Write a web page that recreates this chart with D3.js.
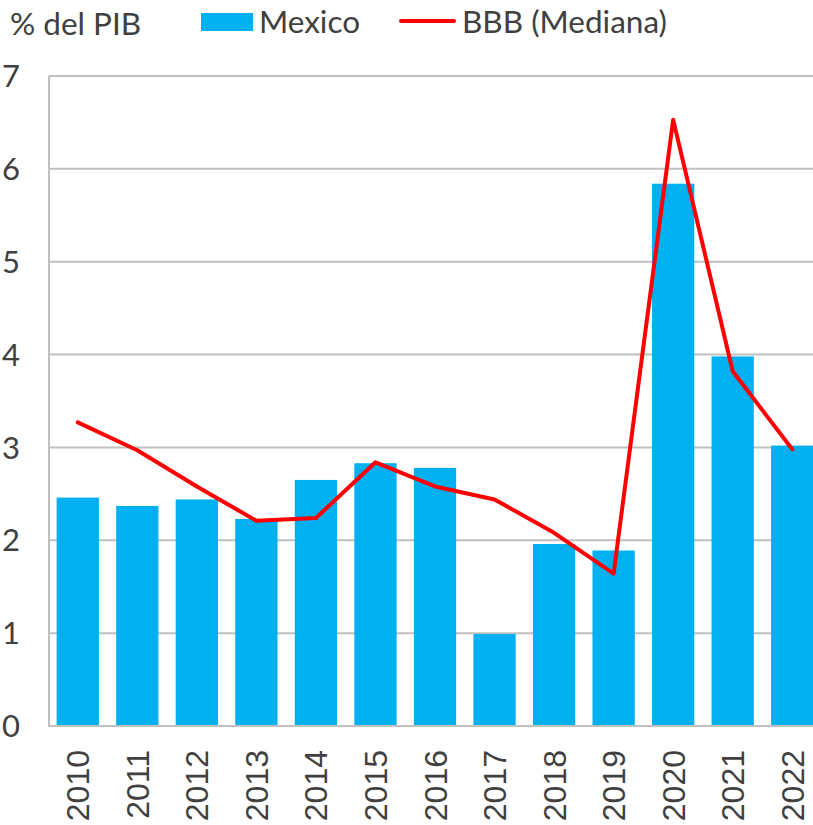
<!DOCTYPE html>
<html>
<head>
<meta charset="utf-8">
<script src="https://cdn.jsdelivr.net/npm/d3@7"></script>
<style>
  body { margin: 0; background: #fff; }
  svg { display: block; }
</style>
</head>
<body>
<div id="chart-area"></div>
<script>
var width = 813;
var height = 825;

// data
var years = ['2010','2011','2012','2013','2014','2015','2016','2017','2018','2019','2020','2021','2022'];
var mexico = [2.46, 2.37, 2.44, 2.23, 2.65, 2.83, 2.78, 0.99, 1.96, 1.89, 5.84, 3.98, 3.02];
var bbb = [3.27, 2.97, 2.58, 2.21, 2.24, 2.84, 2.58, 2.44, 2.08, 1.64, 6.53, 3.82, 2.98];
var yTicks = [0, 1, 2, 3, 4, 5, 6, 7];

var textColor = '#404040';
var gridColor = '#c0c0c0';

var svg = d3.select('#chart-area').append('svg')
            .attr('width', width)
            .attr('height', height);

var xScale = d3.scaleBand()
               .domain(years)
               .range([48, 822])
               .paddingInner(0.29)
               .paddingOuter(0.145);

var yScale = d3.scaleLinear()
               .domain([0, 7])
               .range([726, 76]);

// gridlines
svg.append('g')
   .selectAll('line')
   .data(yTicks.filter(function(d){ return d > 0; }))
   .enter().append('line')
   .attr('x1', 49)
   .attr('x2', width)
   .attr('y1', function(d){ return yScale(d); })
   .attr('y2', function(d){ return yScale(d); })
   .attr('stroke', gridColor)
   .attr('stroke-width', 2);

// y tick labels
svg.append('g')
   .selectAll('text')
   .data(yTicks)
   .enter().append('text')
   .attr('x', 20)
   .attr('y', function(d){ return yScale(d); })
   .attr('dy', '0.36em')
   .attr('text-anchor', 'end')
   .attr('font-family', 'Lato, sans-serif')
   .attr('font-size', '31px')
   .attr('fill', textColor)
   .text(function(d){ return d; });

// bars
svg.append('g')
   .selectAll('rect')
   .data(mexico)
   .enter().append('rect')
   .attr('x', function(d, i){ return xScale(years[i]); })
   .attr('width', xScale.bandwidth())
   .attr('y', function(d){ return yScale(d); })
   .attr('height', function(d){ return yScale(0) - yScale(d); })
   .attr('fill', '#00b0f0');

// axes lines
svg.append('line')
   .attr('x1', 49).attr('x2', 49)
   .attr('y1', yScale(7)).attr('y2', yScale(0) + 1)
   .attr('stroke', gridColor)
   .attr('stroke-width', 2);
svg.append('line')
   .attr('x1', 48).attr('x2', width)
   .attr('y1', yScale(0)).attr('y2', yScale(0))
   .attr('stroke', gridColor)
   .attr('stroke-width', 2);

// median line
var line = d3.line()
             .x(function(d, i){ return xScale(years[i]) + xScale.bandwidth() / 2; })
             .y(function(d){ return yScale(d); });

svg.append('path')
   .attr('d', line(bbb))
   .attr('fill', 'none')
   .attr('stroke', '#ff0000')
   .attr('stroke-width', 4)
   .attr('stroke-linejoin', 'round')
   .attr('stroke-linecap', 'round');

// year labels
svg.append('g')
   .selectAll('text')
   .data(years)
   .enter().append('text')
   .attr('transform', function(d){
     var cx = xScale(d) + xScale.bandwidth() / 2;
     return 'translate(' + cx + ',750) rotate(-90)';
   })
   .attr('dy', '0.36em')
   .attr('text-anchor', 'end')
   .attr('font-family', '"Liberation Sans", Arial, sans-serif')
   .attr('font-size', '32px')
   .attr('fill', textColor)
   .text(function(d){ return d; });

// unit label and legend
svg.append('text')
   .attr('x', 10)
   .attr('y', 35)
   .attr('font-family', 'Lato, sans-serif')
   .attr('font-size', '31.5px')
   .attr('fill', textColor)
   .text('% del PIB');

svg.append('rect')
   .attr('x', 201).attr('y', 13)
   .attr('width', 52).attr('height', 18)
   .attr('fill', '#00b0f0');
svg.append('text')
   .attr('x', 259)
   .attr('y', 33)
   .attr('font-family', 'Lato, sans-serif')
   .attr('font-size', '31.5px')
   .attr('fill', textColor)
   .text('Mexico');

svg.append('line')
   .attr('x1', 401).attr('x2', 454)
   .attr('y1', 21).attr('y2', 21)
   .attr('stroke', '#ff0000')
   .attr('stroke-width', 4)
   .attr('stroke-linecap', 'round');
svg.append('text')
   .attr('x', 462)
   .attr('y', 33)
   .attr('font-family', 'Lato, sans-serif')
   .attr('font-size', '31.5px')
   .attr('fill', textColor)
   .text('BBB (Mediana)');
</script>
</body>
</html>
